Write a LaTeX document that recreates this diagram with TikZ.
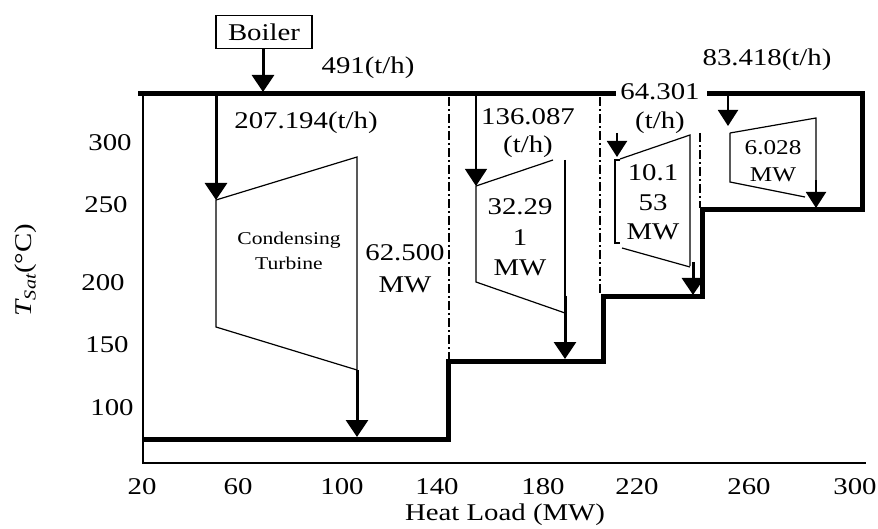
\documentclass[tikz,border=0pt]{standalone}
\usepackage{fontspec}
\setmainfont[FakeStretch=1.2]{Liberation Serif}
\usetikzlibrary{arrows.meta}
\tikzset{
  thickline/.style={line width=5pt, line join=miter},
  frameline/.style={line width=1.4pt},
  turb/.style={line width=1.2pt},
  ddot/.style={line width=1.4pt, dash pattern=on 9pt off 3pt on 2pt off 3pt},
  arrbig/.style={line width=3pt, -{Triangle[width=22pt,length=17pt]}},
  arrmid/.style={line width=2pt, -{Triangle[width=20pt,length=16pt]}},
  arrthin/.style={line width=1.2pt, -{Triangle[width=22pt,length=17pt]}},
  lbl/.style={font=\fontsize{24}{26}\selectfont, inner sep=0pt},
  slbl/.style={font=\fontsize{18}{20}\selectfont, inner sep=0pt},
  mlbl/.style={font=\fontsize{21}{23}\selectfont, inner sep=0pt}
}
\begin{document}
\begin{tikzpicture}[x=1pt,y=-1pt]
\useasboundingbox (0,0) rectangle (878,529);
% axes
\draw[frameline] (143,94) -- (143,463) -- (866,463);
% dash-dot guides
\draw[ddot] (449,97) -- (449,359);
\draw[ddot] (600,97) -- (600,295);
\draw[ddot] (700,133) -- (700,208);
% thick steam / temperature staircase
\draw[thickline] (138,94) -- (616,94);
\draw[thickline] (707,94) -- (862,94) -- (862,210) -- (702,210) -- (702,297)
   -- (603,297) -- (603,361) -- (448,361) -- (448,439) -- (143,439);
% boiler
\node[lbl, draw, line width=1.2pt, minimum width=96pt, minimum height=33pt] (boiler) at (264,32) {Boiler};
\coordinate (bj) at (263,92);
\draw[arrbig] (boiler.south -| bj) -- (bj);
% condensing turbine
\coordinate (c1) at (216,200);
\coordinate (c2) at (357,157);
\coordinate (c3) at (357,370);
\coordinate (c4) at (216,327);
\coordinate (c5) at (357,437);
\draw[arrbig] (216,94) -- (c1);
\draw[turb] (c1) -- (c2) -- (c3) -- (c4) -- cycle;
\draw[arrbig] (c3) -- (c5);
% turbine 2
\coordinate (t2a) at (476,186);
\coordinate (t2b) at (553,160);
\coordinate (t2c) at (565,313);
\coordinate (t2d) at (476,282);
\draw[arrthin] (476,96) -- (t2a);
\draw[turb] (t2b) -- (t2a) -- (t2d) -- (t2c);
\draw[turb] (565,160) -- (565,300);
\draw[arrbig] (565,296) -- (565,359);
% turbine 3
\draw[arrmid] (617,133) -- (617,157);
\draw[turb] (620,160) -- (615,160) -- (615,243) -- (620,243);
\draw[turb] (620,159) -- (690,135) -- (690,266);
\draw[turb] (622,248) -- (690,267);
\draw[arrbig] (693,262) -- (693,295);
% turbine 4
\draw[arrmid] (728,95) -- (728,126);
\draw[turb] (730,133) -- (816,118) -- (816,190);
\draw[turb] (730,133) -- (730,182) -- (805,197);
\draw[arrmid] (816,180) -- (816,208);
% labels
\node[lbl] (f0) at (368,68) {491(t/h)};
\node[lbl] (f1) at (306,123) {207.194(t/h)};
\node[slbl] (ct1) at (289,240) {Condensing};
\node[slbl] (ct2) at (289,263) {Turbine};
\node[lbl] (p1a) at (405,253) {62.500};
\node[lbl] (p1b) at (405,285) {MW};
\node[lbl] (f2a) at (528,117) {136.087};
\node[lbl] (f2b) at (528,147) {(t/h)};
\node[lbl] (p2a) at (520,207) {32.29};
\node[lbl] (p2b) at (520,238) {1};
\node[lbl] (p2c) at (520,268) {MW};
\node[lbl] (f3a) at (660,92) {64.301};
\node[lbl] (f3b) at (660,123) {(t/h)};
\node[lbl] (p3a) at (653,173) {10.1};
\node[lbl] (p3b) at (653,203) {53};
\node[lbl] (p3c) at (653,232) {MW};
\node[lbl] (f4) at (767,60) {83.418(t/h)};
\node[mlbl] (p4a) at (773,148) {6.028};
\node[mlbl] (p4b) at (773,175) {MW};
% x ticks
\node[lbl] (x20) at (142,487) {20};
\node[lbl] (x60) at (238,487) {60};
\node[lbl] (x100) at (342,487) {100};
\node[lbl] (x140) at (437,487) {140};
\node[lbl] (x180) at (543,487) {180};
\node[lbl] (x220) at (637,487) {220};
\node[lbl] (x260) at (749,487) {260};
\node[lbl] (x300) at (855,487) {300};
\node[lbl] (xlab) at (505,515) {Heat Load (MW)};
% y ticks
\node[lbl] (y300) at (110,143) {300};
\node[lbl] (y250) at (106,205) {250};
\node[lbl] (y200) at (103,283) {200};
\node[lbl] (y150) at (107,345) {150};
\node[lbl] (y100) at (112,408) {100};
\node[lbl, rotate=90] (ylab) at (26,270) {{\itshape T\textsubscript{Sat}}(°C)};
\end{tikzpicture}
\end{document}
